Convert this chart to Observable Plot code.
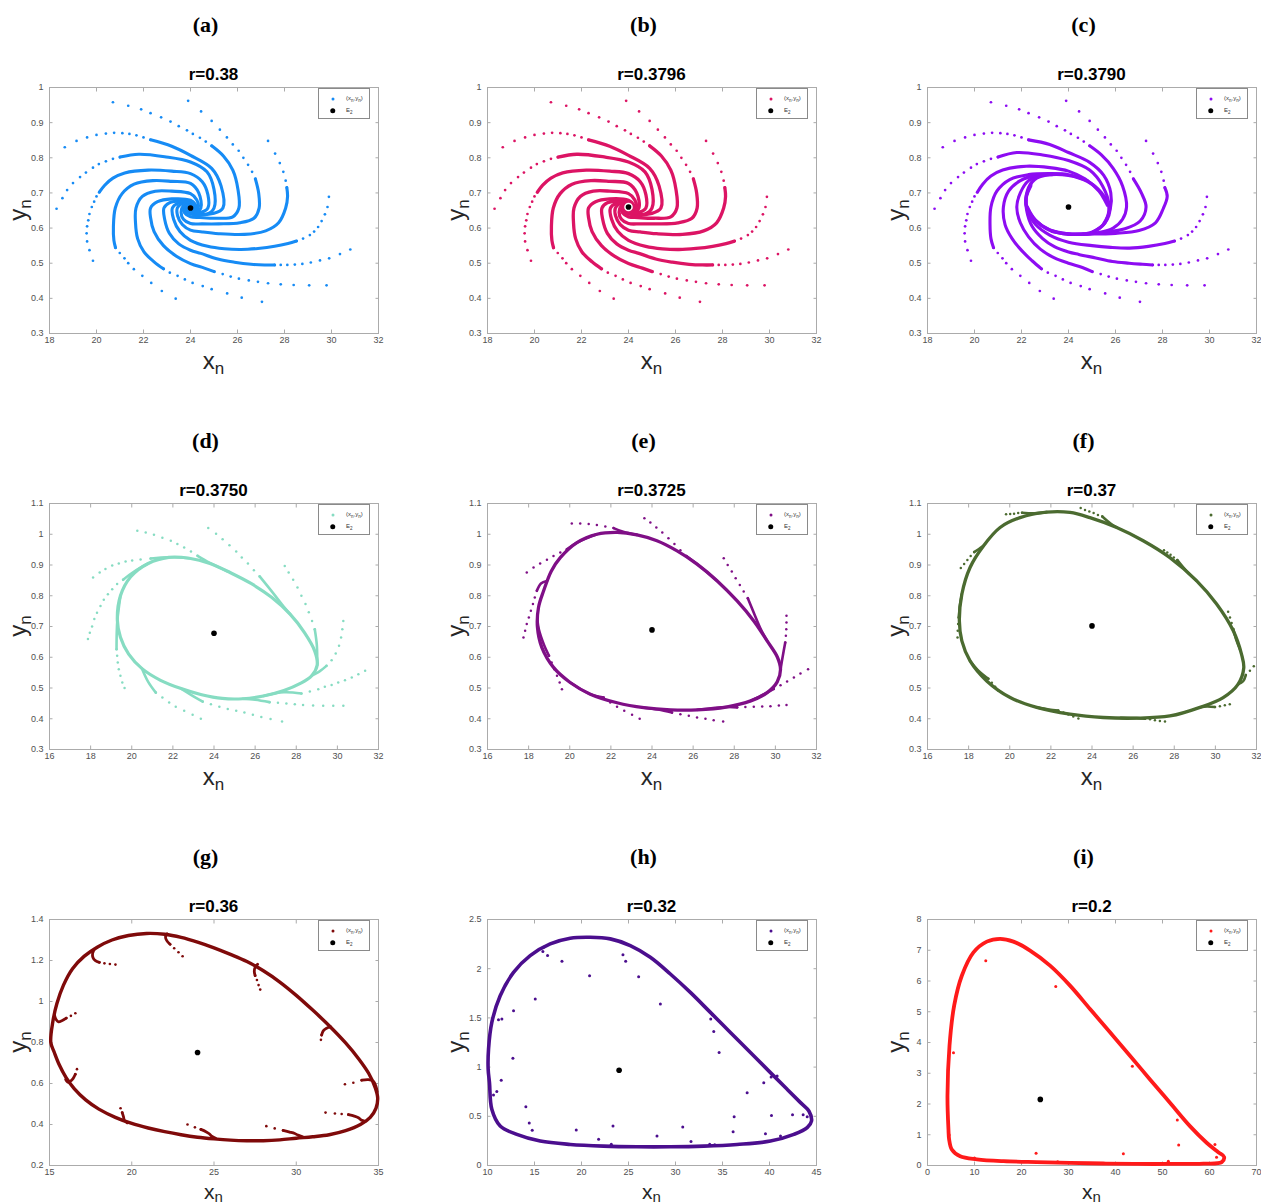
<!DOCTYPE html>
<html><head><meta charset="utf-8">
<script src="https://cdn.jsdelivr.net/npm/d3@7"></script>
<script src="https://cdn.jsdelivr.net/npm/@observablehq/plot@0.6"></script>
<style>
body{margin:0;background:#fff;}
#root{position:relative;width:1261px;height:1204px;overflow:hidden;background:#fff;font-family:"Liberation Sans",Arial,Helvetica,sans-serif;}
.pw{position:absolute;}
.pw svg{max-width:none;display:block;}
.lab{position:absolute;font-family:"Liberation Serif","Times New Roman",serif;font-weight:bold;font-size:22px;line-height:1;transform:translate(-50%,-50%);white-space:nowrap;color:#000;}
.ttl{position:absolute;font-weight:bold;font-size:17px;line-height:1;transform:translate(-50%,-50%);white-space:nowrap;color:#000;}
.xl{position:absolute;font-size:24px;line-height:1;transform:translate(-50%,-50%);white-space:nowrap;color:#262626;}
.xl sub,.yl sub{font-size:17px;vertical-align:-5px;}
.xl.low{font-size:21px;}
.xl.low sub{font-size:15px;vertical-align:-3px;}
.yl{position:absolute;font-size:24px;line-height:1;transform:translate(-50%,-50%) rotate(-90deg);white-space:nowrap;color:#262626;}
.leg{position:absolute;border:1px solid #8a8a8a;background:#fff;box-sizing:border-box;}
.leg .m{position:absolute;border-radius:50%;transform:translate(-50%,-50%);}
.leg .t{position:absolute;font-size:6px;line-height:1;transform:translateY(-50%);white-space:nowrap;color:#333;}
.leg .t sub{font-size:4.5px;vertical-align:-1.5px;}
</style></head>
<body><div id="root"></div>
<script>
// ---------- tick labels ----------
const xTicksABC = [18,20,22,24,26,28,30,32];
const yTicksABC = [0.3,0.4,0.5,0.6,0.7,0.8,0.9,1];
const xTicksDEF = [16,18,20,22,24,26,28,30,32];
const yTicksDEF = [0.3,0.4,0.5,0.6,0.7,0.8,0.9,1,1.1];
const xTicksG = [15,20,25,30,35];
const yTicksG = [0.2,0.4,0.6,0.8,1,1.2,1.4];
const xTicksH = [10,15,20,25,30,35,40,45];
const yTicksH = [0,0.5,1,1.5,2,2.5];
const xTicksI = [0,10,20,30,40,50,60,70];
const yTicksI = [0,1,2,3,4,5,6,7,8];

const panelLabels = ["(a)","(b)","(c)","(d)","(e)","(f)","(g)","(h)","(i)"];
const panelTitles = ["r=0.38","r=0.3796","r=0.3790","r=0.3750","r=0.3725","r=0.37","r=0.36","r=0.32","r=0.2"];
const panelColors = ["#168bf5","#dc1464","#8d0cf2","#86dcc2","#7f0f86","#4b6b30","#7f0a0a","#4b0e8e","#ff1a1a"];
const e2Points = [[24,0.657],[24,0.66],[24,0.66],[24,0.678],[24,0.689],[24,0.702],[24,0.751],[24,0.968],[24,2.15]];

// ---------- panels a, b, c : outer sparse iterates ----------
const spiralDots = [
 [18.3,.655],[18.55,.685],[18.75,.708],[19.0,.728],[19.3,.745],[19.55,.758],[19.85,.772],[20.1,.782],[20.4,.79],[20.7,.797],[21.0,.802],
 [18.65,.83],[19.15,.848],[19.6,.858],[20.0,.865],[20.4,.869],[20.75,.871],[21.1,.87],[21.4,.868],[21.7,.864],[22.0,.858],[22.3,.851],
 [20.7,.958],[21.35,.948],[21.9,.938],[22.3,.927],[22.75,.915],[23.15,.903],[23.5,.89],[23.85,.878],[24.1,.868],[24.4,.857],[24.65,.846],[24.9,.834],
 [23.9,.962],[24.45,.932],[24.9,.905],[25.25,.88],[25.55,.858],[25.8,.838],[26.05,.82],[26.25,.8],[26.45,.78],[26.62,.76],[26.76,.74],
 [27.3,.848],[27.6,.812],[27.8,.785],[27.95,.76],[28.05,.735],[28.1,.715],
 [29.89,.689],[29.83,.66],[29.72,.639],[29.58,.62],[29.43,.603],[29.26,.59],[29.08,.58],[28.79,.57],[28.51,.563],
 [30.8,.539],[30.36,.526],[29.9,.514],[29.51,.508],[29.12,.502],[28.76,.498],[28.44,.496],[28.12,.495],[27.84,.495],[27.58,.495],
 [29.79,.437],[29.05,.437],[28.39,.438],[27.84,.44],[27.3,.443],[26.87,.447],[26.48,.451],[26.06,.456],[25.71,.462],[25.37,.469],[25.01,.476],
 [27.04,.39],[26.18,.402],[25.56,.414],[24.9,.426],[24.52,.435],[24.09,.444],[23.76,.454],[23.45,.464],[23.12,.473],[22.85,.484],
 [23.37,.399],[22.78,.421],[22.33,.444],[21.95,.464],[21.59,.483],[21.35,.5],[21.19,.514],[20.99,.529],[20.81,.544],
 [19.85,.507],[19.7,.537],[19.6,.562],[19.58,.585],[19.6,.605],[19.65,.622],[19.7,.64],[19.8,.66],[19.9,.675],[20.0,.69],[20.12,.702]
];
// dense inner parts (a, b): arms winding into E2
const spiralArms = [
 [[21.0,.802],[21.8,.81],[22.9,.803],[24.0,.788],[24.7,.76],[25.0,.71],[25.0,.657],[24.7,.64],[24.0,.645],[23.8,.657],[23.95,.666],[24.0,.657]],
 [[22.3,.851],[23.2,.833],[24.0,.807],[24.9,.77],[25.3,.72],[25.38,.657],[25.0,.642],[24.0,.64],[23.75,.652],[23.85,.667],[24.05,.664],[24.0,.657]],
 [[24.9,.834],[25.4,.805],[25.8,.765],[26.02,.71],[26.06,.657],[25.8,.632],[25.1,.628],[24.4,.63],[24.0,.632],[23.75,.643],[23.72,.657],[23.85,.665],[24.0,.664],[24.0,.657]],
 [[26.76,.74],[26.9,.70],[26.92,.657],[26.7,.628],[26.1,.615],[25.2,.612],[24.5,.612],[24.0,.613],[23.7,.625],[23.6,.645],[23.68,.662],[23.88,.668],[24.05,.663],[24.0,.657]],
 [[28.1,.715],[28.13,.69],[28.05,.657],[27.75,.615],[27.2,.592],[26.3,.582],[25.2,.584],[24.5,.589],[24.0,.594],[23.65,.61],[23.45,.635],[23.44,.657],[23.6,.668],[23.85,.672],[24.05,.668],[24.0,.657]],
 [[28.51,.563],[28.15,.556],[27.58,.548],[26.87,.542],[26.15,.539],[25.44,.541],[24.73,.548],[24.0,.565],[23.55,.59],[23.28,.625],[23.23,.657],[23.45,.67],[23.8,.674],[24.05,.668],[24.1,.657],[24.0,.657]],
 [[27.58,.495],[27.15,.495],[26.58,.497],[25.87,.503],[25.16,.512],[24.44,.528],[24.0,.537],[23.5,.555],[23.1,.585],[22.9,.625],[22.87,.657],[23.1,.672],[23.6,.677],[24.0,.673],[24.15,.665],[24.15,.657],[24.0,.657]],
 [[25.01,.476],[24.59,.486],[24.0,.499],[23.4,.52],[22.85,.55],[22.45,.59],[22.3,.63],[22.3,.657],[22.6,.675],[23.2,.683],[24.0,.679],[24.2,.668],[24.22,.657],[24.0,.657]],
 [[22.85,.484],[22.45,.504],[22.02,.532],[21.75,.57],[21.66,.615],[21.68,.657],[21.95,.69],[22.5,.705],[23.2,.705],[24.0,.698],[24.27,.68],[24.32,.657],[24.12,.648],[24.0,.657]],
 [[20.81,.544],[20.74,.565],[20.72,.605],[20.8,.657],[21.09,.698],[21.6,.725],[22.4,.735],[23.2,.733],[24.0,.727],[24.35,.7],[24.44,.657],[24.2,.646],[24.0,.651],[23.92,.66],[24.0,.657]],
 [[20.12,.702],[20.35,.722],[20.7,.742],[21.2,.757],[22.2,.765],[23.2,.762],[24.0,.755],[24.5,.732],[24.74,.695],[24.74,.657],[24.45,.645],[24.0,.648],[23.87,.657],[24.0,.665],[24.0,.657]]
];
// dense inner parts (c): arms winding onto a small ring
const spiralArmsC = [
 [[21.0,.802],[21.8,.815],[22.9,.808],[24.0,.792],[24.9,.765],[25.45,.72],[25.72,.665],[25.55,.615],[25.0,.588]],
 [[22.3,.851],[23.2,.838],[24.0,.815],[24.9,.787],[25.5,.75],[25.8,.7],[25.78,.655],[25.5,.612]],
 [[24.9,.834],[25.4,.808],[25.9,.77],[26.3,.72],[26.47,.66],[26.3,.625],[25.9,.6],[25.3,.587],[24.6,.582]],
 [[26.76,.74],[27.1,.70],[27.3,.66],[27.05,.62],[26.4,.598],[25.5,.588],[24.6,.583],[24.0,.582],[23.3,.59]],
 [[28.1,.715],[28.2,.69],[28.03,.655],[27.7,.615],[27.0,.593],[26.0,.585],[25.0,.583],[24.0,.584],[23.2,.595],[22.6,.622],[22.25,.66]],
 [[28.51,.563],[28.1,.556],[27.4,.548],[26.6,.543],[25.8,.545],[25.0,.55],[24.0,.56],[23.2,.58],[22.6,.61],[22.25,.65],[22.2,.685],[22.4,.72]],
 [[27.58,.495],[27.15,.497],[26.58,.5],[25.87,.505],[25.16,.515],[24.44,.525],[24.0,.532],[23.4,.547],[22.9,.57],[22.45,.605],[22.22,.65],[22.2,.69],[22.4,.725]],
 [[25.01,.476],[24.59,.488],[24.0,.5],[23.4,.515],[22.8,.54],[22.3,.575],[21.95,.615],[21.8,.66],[21.95,.7],[22.3,.735],[22.9,.75]],
 [[22.85,.484],[22.45,.507],[22.02,.535],[21.6,.57],[21.3,.61],[21.23,.66],[21.45,.705],[21.95,.735],[22.6,.75],[23.3,.752]],
 [[20.81,.544],[20.7,.57],[20.66,.61],[20.7,.66],[20.95,.705],[21.5,.738],[22.3,.752],[23.2,.755],[24.0,.752],[24.8,.735]],
 [[20.12,.702],[20.35,.725],[20.7,.748],[21.2,.765],[22.2,.776],[23.2,.772],[24.0,.762],[24.7,.74],[25.3,.705],[25.65,.665]]
];
const ringC = [[25.75,.655],[25.55,.615],[25.0,.588],[24.0,.583],[23.2,.594],[22.6,.622],[22.22,.66],[22.25,.705],[22.55,.738],[23.2,.752],[24.0,.75],[24.8,.733],[25.4,.70]];

// ---------- panel d ----------
const dTailDots = [
 [18.12,.859],[18.44,.876],[18.72,.887],[19.05,.898],[19.37,.905],[19.7,.911],[20.02,.915],[20.43,.918],[20.92,.921],
 [17.87,.659],[17.96,.68],[18.07,.70],[18.18,.724],[18.31,.745],[18.48,.767],[18.64,.787],[18.84,.805],[19.05,.821],[19.29,.838],[19.58,.852],
 [19.65,.5],[19.54,.518],[19.45,.54],[19.37,.561],[19.32,.583],[19.29,.605],[19.26,.626],
 [20.27,1.011],[20.68,1.006],[21.08,.998],[21.49,.989],[21.9,.979],[22.22,.968],[22.55,.957],[22.88,.944],[23.2,.93],
 [23.72,1.02],[24.1,1.002],[24.42,.984],[24.75,.964],[25.08,.944],[25.35,.924],[25.65,.905],[25.94,.883],[26.22,.863],
 [27.44,.897],[27.63,.876],[27.85,.852],[28.06,.827],[28.25,.8],[28.45,.773],[28.61,.746],[28.77,.718],[28.9,.691],
 [30.29,.718],[30.24,.691],[30.18,.664],[30.08,.637],[29.92,.612],[29.72,.59],[29.47,.572],
 [31.35,.556],[31.02,.545],[30.7,.534],[30.37,.525],[30.04,.518],[29.72,.51],[29.39,.504],[29.07,.496],[28.66,.489],[28.25,.482],
 [30.29,.442],[29.8,.442],[29.31,.442],[28.82,.443],[28.33,.445],[27.93,.447],[27.52,.45],[27.11,.452],[26.7,.454],
 [27.31,.391],[26.75,.399],[26.3,.406],[25.89,.413],[25.48,.42],[25.08,.426],[24.67,.432],[24.26,.439],[23.85,.447],[23.45,.456],
 [23.36,.4],[22.96,.413],[22.55,.426],[22.14,.439],[21.82,.453],[21.49,.469],[21.17,.485]
];
const dMerge = [
 [[20.92,.921],[21.8,.925],[22.8,.922]],
 [[19.58,.852],[20.1,.878],[20.8,.905]],
 [[19.26,.626],[19.27,.68],[19.3,.72],[19.45,.80]],
 [[23.2,.93],[23.8,.907],[24.8,.875]],
 [[26.22,.863],[26.8,.815],[27.3,.772],[27.7,.74]],
 [[28.9,.691],[29.0,.64],[29.02,.575]],
 [[29.47,.572],[29.15,.555],[28.75,.54]],
 [[28.25,.482],[27.4,.486],[26.4,.474]],
 [[26.7,.454],[26.0,.462],[25.4,.465]],
 [[23.45,.456],[22.9,.477],[22.4,.498]],
 [[21.17,.485],[20.8,.52],[20.5,.563]]
];
const dLoop = [[19.3,.72],[19.45,.80],[19.95,.862],[20.8,.905],[21.8,.925],[22.8,.922],[23.8,.905],[24.8,.875],[25.8,.84],[26.8,.795],[27.7,.74],[28.4,.68],[28.9,.62],[29.02,.575],[28.75,.54],[28.2,.515],[27.4,.492],[26.4,.474],[25.4,.465],[24.4,.466],[23.4,.478],[22.4,.498],[21.4,.525],[20.5,.563],[19.85,.61],[19.45,.665]];

// ---------- panel e ----------
const eTailDots = [
 [17.91,.876],[18.24,.892],[18.56,.905],[18.89,.917],[19.21,.929],[19.54,.941],[19.86,.951],
 [17.75,.664],[17.83,.686],[17.91,.708],[18.01,.729],[18.11,.751],[18.21,.773],[18.3,.794],[18.4,.816],
 [19.62,.496],[19.51,.518],[19.38,.54],[19.25,.561],[19.12,.583],[18.99,.605],
 [20.1,1.035],[20.51,1.035],[20.92,1.033],[21.32,1.03],[21.73,1.025],[22.13,1.02],
 [23.63,1.052],[23.92,1.038],[24.21,1.022],[24.5,1.006],[24.8,.987],[25.09,.968],[25.38,.948],[25.67,.929],
 [27.49,.922],[27.68,.9],[27.88,.879],[28.07,.857],[28.27,.835],[28.46,.814],[28.66,.792],
 [30.54,.735],[30.54,.713],[30.53,.691],[30.51,.67],[30.48,.648],
 [31.59,.561],[31.22,.547],[30.9,.534],[30.57,.521],[30.25,.509],[29.92,.497],
 [30.54,.445],[30.17,.443],[29.76,.441],[29.36,.44],[28.95,.439],[28.54,.438],[28.14,.437],
 [27.46,.391],[27.0,.395],[26.6,.4],[26.19,.404],[25.79,.41],[25.38,.415],[24.97,.42],
 [23.4,.4],[23.03,.413],[22.65,.426],[22.3,.439],[21.97,.453],[21.65,.469]
];
const eMerge = [
 [[19.86,.951],[20.35,.973],[21.32,1.0]],
 [[18.4,.816],[18.6,.84],[18.89,.848]],
 [[18.99,.605],[18.75,.64],[18.5,.69],[18.43,.72]],
 [[22.13,1.02],[22.6,1.008],[23.27,.998]],
 [[25.67,.929],[26.19,.903],[27.16,.849]],
 [[28.66,.792],[28.95,.745],[29.3,.69],[29.6,.653]],
 [[30.48,.648],[30.35,.6],[30.25,.56]],
 [[29.92,.497],[29.6,.485],[28.8,.458]],
 [[28.14,.437],[27.6,.438],[26.2,.429]],
 [[24.97,.42],[24.3,.43],[23.6,.436]],
 [[21.65,.469],[21.0,.48],[20.02,.518]]
];
const eLoop = [[18.43,.697],[18.48,.762],[18.73,.816],[19.1,.88],[19.54,.924],[20.35,.973],[21.32,1.0],[22.3,1.006],[23.27,.998],[24.24,.979],[25.22,.946],[26.19,.903],[27.16,.849],[28.14,.783],[28.95,.718],[29.6,.653],[30.1,.6],[30.25,.56],[30.09,.52],[29.6,.485],[28.8,.458],[27.6,.438],[26.2,.429],[24.9,.429],[23.6,.436],[22.3,.452],[21.0,.48],[20.02,.518],[19.21,.567],[18.64,.632]];

// ---------- panel f ----------
const fTailDots = [
 [17.46,.664],[17.47,.686],[17.49,.708],[17.52,.729],
 [17.62,.89],[17.78,.903],[17.94,.916],[18.1,.929],[18.27,.942],
 [19.82,1.065],[20.02,1.066],[20.21,1.067],[20.41,1.069],[20.6,1.07],
 [23.45,1.085],[23.66,1.079],[23.87,1.074],[24.08,1.069],[24.29,1.063],[24.5,1.058],
 [27.5,.948],[27.66,.941],[27.82,.933],[27.98,.924],[28.15,.916],
 [30.62,.748],[30.71,.729],[30.79,.711],[30.87,.692],
 [31.87,.571],[31.68,.556],[31.48,.542],
 [30.7,.447],[30.46,.444],[30.22,.441],[29.98,.438],
 [27.55,.391],[27.3,.393],[27.06,.395],[26.82,.398],[26.58,.4],
 [23.34,.401],[23.09,.407],[22.85,.414],[22.61,.42],[22.36,.427],
 [19.45,.491],[19.29,.504],[19.13,.517],[18.96,.53]
];
const fMerge = [
 [[17.52,.729],[17.58,.77],[17.67,.805]],
 [[18.27,.942],[18.5,.952],[18.72,.962]],
 [[20.6,1.07],[21.2,1.068],[21.8,1.072]],
 [[24.5,1.058],[24.9,1.035],[25.2,1.022]],
 [[28.15,.916],[28.6,.88],[29.08,.849]],
 [[30.87,.692],[31.0,.66],[31.2,.625]],
 [[31.48,.542],[31.35,.522],[31.1,.512]],
 [[29.98,.438],[29.6,.44],[29.25,.437]],
 [[26.58,.4],[26.17,.402],[25.4,.403]],
 [[22.36,.427],[21.9,.43],[21.31,.437]],
 [[18.96,.53],[18.5,.555],[18.07,.588]]
];
const fLoop = [[17.55,.718],[17.67,.805],[18.07,.892],[18.72,.962],[19.53,1.022],[20.5,1.054],[21.8,1.072],[22.93,1.071],[23.9,1.054],[25.2,1.022],[26.49,.979],[27.79,.924],[29.08,.849],[30.06,.773],[30.87,.686],[31.27,.61],[31.38,.565],[31.1,.512],[30.38,.469],[29.25,.437],[27.79,.409],[26.17,.402],[24.55,.404],[22.93,.415],[21.31,.437],[20.02,.469],[18.88,.523],[18.07,.588],[17.67,.653]];

// ---------- panel g ----------
const gHookDots = [
 [19.01,1.18],[18.67,1.183],[18.34,1.186],[18.03,1.191],
 [23.09,1.221],[22.84,1.24],[22.58,1.26],[22.33,1.279],
 [27.81,1.058],[27.71,1.08],[27.61,1.105],[27.5,1.126],
 [31.5,.813],[31.54,.836],
 [32.96,.596],[33.47,.604],[33.98,.616],
 [31.78,.458],[32.35,.454],[32.76,.451],[33.17,.448],
 [28.18,.392],[28.69,.381],[29.2,.371],
 [23.39,.40],[23.84,.386],[24.2,.376],
 [19.32,.479],[19.42,.458],
 [16.67,.67],[16.57,.645],
 [16.57,.943],[16.3,.93],[16.02,.919]
];
const gHookCurls = [
 [[18.03,1.191],[17.79,1.199],[17.64,1.215],[17.62,1.235],[17.72,1.255]],
 [[22.33,1.279],[22.13,1.297],[22.05,1.315],[22.15,1.33]],
 [[27.5,1.126],[27.45,1.147],[27.5,1.167],[27.65,1.182]],
 [[31.54,.836],[31.64,.857],[31.84,.87],[32.1,.876]],
 [[33.98,.616],[34.39,.619],[34.69,.611],[34.84,.588],[34.92,.56]],
 [[33.17,.448],[33.53,.441],[33.78,.433],[33.94,.422],[34.2,.415]],
 [[29.2,.371],[29.6,.363],[29.91,.356],[30.11,.348],[30.4,.34]],
 [[24.2,.376],[24.51,.365],[24.71,.355],[24.86,.343],[25.1,.333]],
 [[19.42,.458],[19.5,.437],[19.55,.42],[19.72,.408]],
 [[16.57,.645],[16.43,.624],[16.26,.611],[16.1,.607],[15.98,.62]],
 [[16.02,.919],[15.75,.906],[15.55,.901],[15.4,.912],[15.3,.935]]
];
const gLoop = [[15.08,.80],[15.2,.90],[15.45,.99],[15.85,1.08],[16.4,1.16],[17.1,1.22],[17.9,1.265],[18.8,1.3],[19.8,1.322],[20.9,1.332],[22.0,1.328],[23.0,1.313],[24.0,1.29],[25.0,1.262],[26.0,1.23],[27.0,1.195],[28.0,1.15],[29.0,1.095],[30.0,1.03],[31.0,.958],[32.0,.882],[33.0,.798],[33.8,.72],[34.4,.65],[34.8,.58],[34.95,.53],[34.85,.48],[34.5,.435],[33.9,.40],[33.0,.37],[32.0,.35],[31.0,.34],[30.0,.333],[29.0,.325],[28.0,.321],[27.0,.321],[26.0,.324],[25.0,.33],[24.0,.338],[23.0,.35],[22.0,.365],[21.0,.383],[20.0,.405],[19.0,.435],[18.0,.475],[17.2,.52],[16.5,.575],[16.0,.63],[15.6,.69],[15.3,.75]];

// ---------- panel h ----------
const hDots = [[15.96,2.218],[15.89,2.174],[16.39,2.133],[17.92,2.075],[20.86,1.929],[24.41,2.143],[24.7,2.075],[26.08,1.919],[15.08,1.692],[12.77,1.573],[11.17,1.481],[11.53,1.488],[12.7,1.09],[11.46,.866],[10.99,.751],[10.64,.717],[14.08,.598],[14.44,.431],[14.76,.357],[19.44,.36],[21.82,.268],[23.17,.217],[23.35,.401],[28.03,.299],[30.77,.391],[31.65,.245],[33.64,.217],[34.17,.21],[36.13,.343],[36.24,.496],[39.57,.323],[40.21,.509],[41.17,.299],[42.45,.516],[43.58,.516],[44.01,.496],[37.62,.74],[39.39,.842],[40.17,.9],[40.81,.91],[34.64,1.148],[34.07,1.362],[33.75,1.488],[33.93,1.532],[28.39,1.64]];
const hLoop = [[10.07,.978],[10.11,1.182],[10.46,1.454],[11.35,1.726],[12.77,1.963],[14.54,2.133],[16.67,2.252],[18.8,2.31],[20.93,2.32],[23.06,2.303],[25.19,2.235],[27.32,2.116],[29.45,1.946],[31.58,1.759],[33.71,1.556],[35.84,1.352],[37.97,1.148],[40.1,.944],[41.88,.774],[43.3,.639],[44.19,.554],[44.47,.452],[44.01,.384],[42.59,.316],[40.1,.248],[36.55,.214],[33.0,.197],[29.45,.19],[25.9,.19],[22.35,.197],[18.8,.214],[15.61,.248],[13.12,.316],[11.35,.401],[10.46,.571],[10.21,.842]];

// ---------- panel i ----------
const iDots = [[12.4,6.66],[27.29,5.82],[5.53,3.67],[43.59,3.23],[53.15,1.48],[53.44,.67],[4.6,.99],[9.99,.24],[23.1,.40],[41.67,.38],[61.5,.27],[61.16,.68],[27.7,.12],[51.24,.14]];
const iLoop = [[4.46,1.17],[4.25,2.26],[4.68,3.89],[5.67,5.2],[7.3,6.17],[9.78,6.93],[12.62,7.28],[15.45,7.37],[18.28,7.28],[21.83,6.99],[26.08,6.5],[30.33,5.85],[34.58,5.09],[38.83,4.33],[43.08,3.57],[47.34,2.8],[51.59,2.04],[55.84,1.28],[59.39,.74],[61.87,.43],[63.1,.28],[62.6,.11],[58.7,.06],[51.6,.05],[44.5,.05],[37.4,.065],[30.3,.087],[23.2,.11],[16.2,.14],[10.5,.2],[6.95,.3],[5.17,.52],[4.6,.85]];

// ---------- layout ----------
const colLeft = [49, 487, 927];
const rowTop = [87, 503, 919];
const xLabelOffset = [30, 30, 27];
const PW = 329, PH = 246;
const ML = 44, MR = 8, MT = 6, MB = 26;

const panels = [
 {xd:[18,32], yd:[0.3,1], xt:xTicksABC, yt:yTicksABC, dots:spiralDots, arms:spiralArms, aw:3.1, dr:1.35},
 {xd:[18,32], yd:[0.3,1], xt:xTicksABC, yt:yTicksABC, dots:spiralDots, arms:spiralArms, aw:3.3, dr:1.35, halo:true},
 {xd:[18,32], yd:[0.3,1], xt:xTicksABC, yt:yTicksABC, dots:spiralDots, arms:spiralArmsC, loop:ringC, lw:3.4, aw:3.1, dr:1.35},
 {xd:[16,32], yd:[0.3,1.1], xt:xTicksDEF, yt:yTicksDEF, dots:dTailDots, arms:dMerge, loop:dLoop, lw:3.2, aw:2.6, dr:1.25},
 {xd:[16,32], yd:[0.3,1.1], xt:xTicksDEF, yt:yTicksDEF, dots:eTailDots, arms:eMerge, loop:eLoop, lw:3.3, aw:2.6, dr:1.25},
 {xd:[16,32], yd:[0.3,1.1], xt:xTicksDEF, yt:yTicksDEF, dots:fTailDots, arms:fMerge, loop:fLoop, lw:3.3, aw:2.6, dr:1.25},
 {xd:[15,35], yd:[0.2,1.4], xt:xTicksG, yt:yTicksG, dots:gHookDots, arms:gHookCurls, loop:gLoop, lw:3.4, aw:2.8, dr:1.3},
 {xd:[10,45], yd:[0,2.5], xt:xTicksH, yt:yTicksH, dots:hDots, arms:[], loop:hLoop, lw:3.6, aw:3, dr:1.5},
 {xd:[0,70], yd:[0,8], xt:xTicksI, yt:yTicksI, dots:iDots, arms:[], loop:iLoop, lw:3.8, aw:3, dr:1.5}
];

const root = document.getElementById("root");
const AX = "#ababab";

panels.forEach((p, k) => {
  const row = Math.floor(k / 3);
  const left = colLeft[k % 3], top = rowTop[row];
  const color = panelColors[k];
  const e2 = e2Points[k];
  const rows = [];
  p.arms.forEach((arm, i) => arm.forEach(([x, y]) => rows.push({x, y, i})));
  const marks = [
    Plot.frame({stroke: AX}),
    Plot.axisX(p.xt, {anchor: "bottom", tickSize: -3.5, tickFormat: () => "", stroke: AX, label: null}),
    Plot.axisX(p.xt, {anchor: "top", tickSize: -3.5, tickFormat: () => "", stroke: AX, label: null}),
    Plot.axisY(p.yt, {anchor: "left", tickSize: -3.5, tickFormat: () => "", stroke: AX, label: null}),
    Plot.axisY(p.yt, {anchor: "right", tickSize: -3.5, tickFormat: () => "", stroke: AX, label: null}),
    Plot.axisX(p.xt, {anchor: "bottom", tickSize: 0, tickPadding: 3, tickFormat: d => String(d), fill: "#505050", label: null}),
    Plot.axisY(p.yt, {anchor: "left", tickSize: 0, tickPadding: 6, tickFormat: d => String(d), fill: "#505050", label: null})
  ];
  if (p.loop) marks.push(Plot.line(p.loop, {x: d => d[0], y: d => d[1], curve: "catmull-rom-closed", stroke: color, strokeWidth: p.lw}));
  if (rows.length) marks.push(Plot.line(rows, {x: "x", y: "y", z: "i", curve: "catmull-rom", stroke: color, strokeWidth: p.aw, strokeLinecap: "round", strokeLinejoin: "round"}));
  marks.push(Plot.dot(p.dots, {x: d => d[0], y: d => d[1], r: p.dr, fill: color}));
  if (p.halo) marks.push(Plot.dot([e2], {x: d => d[0], y: d => d[1], r: 4.3, fill: "#fff"}));
  marks.push(Plot.dot([e2], {x: d => d[0], y: d => d[1], r: 2.8, fill: "#000"}));

  const svg = Plot.plot({
    width: PW + ML + MR, height: PH + MT + MB,
    marginLeft: ML, marginRight: MR, marginTop: MT, marginBottom: MB,
    x: {domain: p.xd, label: null},
    y: {domain: p.yd, label: null},
    style: {background: "transparent", fontSize: "9px", fontFamily: "'Liberation Sans', Arial, sans-serif", overflow: "visible"},
    marks
  });
  const wrap = document.createElement("div");
  wrap.className = "pw";
  wrap.style.left = (left - ML) + "px";
  wrap.style.top = (top - MT) + "px";
  wrap.style.width = (PW + ML + MR) + "px";
  wrap.appendChild(svg);
  root.appendChild(wrap);

  const cx = left + PW / 2;
  const add = (cls, html, x, y) => {
    const d = document.createElement("div");
    d.className = cls; d.innerHTML = html;
    d.style.left = x + "px"; d.style.top = y + "px";
    root.appendChild(d);
    return d;
  };
  add("lab", panelLabels[k], cx - 8, top - 62);
  add("ttl", panelTitles[k], cx, top - 13);
  add(row === 2 ? "xl low" : "xl", "x<sub>n</sub>", cx, top + PH + xLabelOffset[row]);
  add("yl", "y<sub>n</sub>", left - 29, top + PH / 2);

  const leg = document.createElement("div");
  leg.className = "leg";
  leg.style.left = (left + PW - 60) + "px";
  leg.style.top = (top + 1) + "px";
  leg.style.width = "52px"; leg.style.height = "31px";
  leg.innerHTML =
    `<span class="m" style="left:13.5px;top:9.5px;width:3px;height:3px;background:${color}"></span>` +
    `<span class="t" style="left:27px;top:9.5px">(x<sub>n</sub>,y<sub>n</sub>)</span>` +
    `<span class="m" style="left:13.5px;top:21.5px;width:5.5px;height:5.5px;background:#000"></span>` +
    `<span class="t" style="left:27px;top:21.5px">E<sub>2</sub></span>`;
  root.appendChild(leg);
});
</script></body></html>
